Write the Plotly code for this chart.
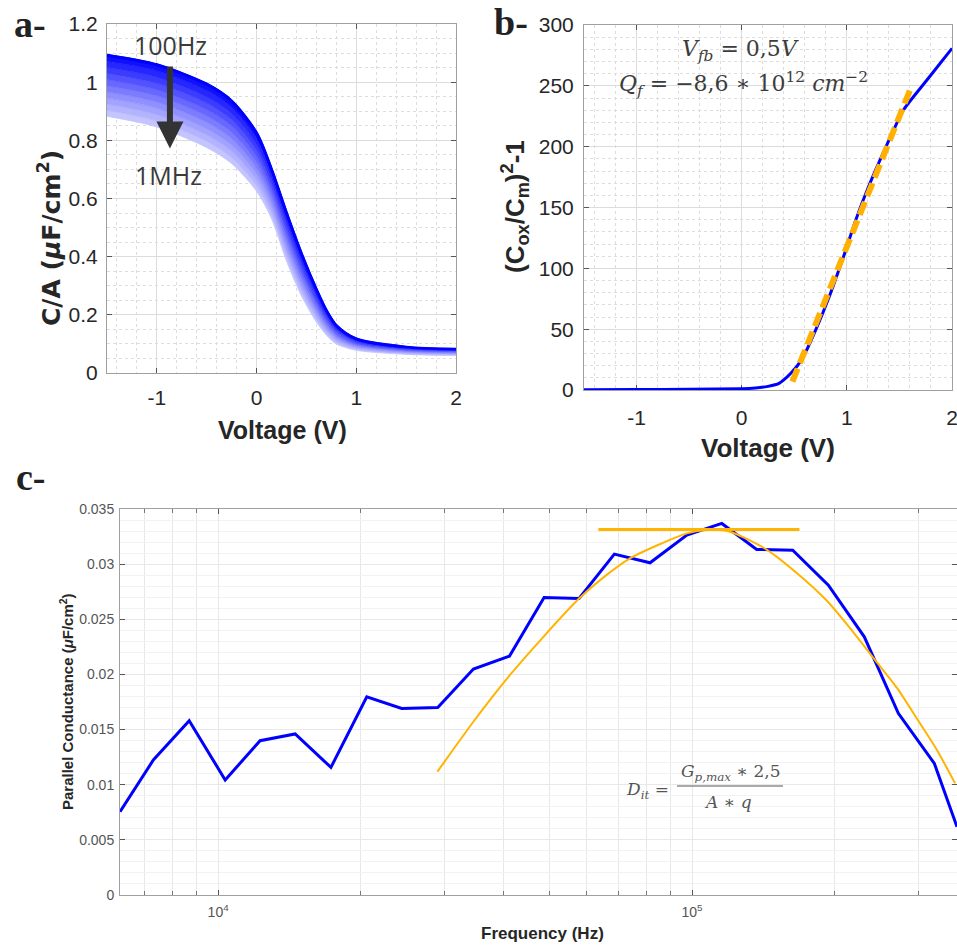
import plotly.graph_objects as go

# ---------------- Panel a: C/A vs Voltage, 100 Hz ... 1 MHz ----------------
volt_a = [-1.5, -1.0, -0.5, -0.25, 0.0, 0.15, 0.3, 0.45, 0.6, 0.7, 0.8, 1.0, 1.5, 2.0]
freq_labels_a = ["100 Hz", "251 Hz", "631 Hz", "1.58 kHz", "3.98 kHz", "10 kHz",
                 "25.1 kHz", "63.1 kHz", "158 kHz", "398 kHz", "1 MHz"]
ca_100Hz = [1.093, 1.060, 0.993, 0.935, 0.825, 0.700, 0.550, 0.410, 0.287, 0.215, 0.163, 0.117, 0.089, 0.082]
ca_251Hz = [1.072, 1.039, 0.971, 0.913, 0.805, 0.683, 0.533, 0.395, 0.276, 0.206, 0.157, 0.113, 0.086, 0.080]
ca_631Hz = [1.051, 1.017, 0.949, 0.892, 0.785, 0.666, 0.517, 0.381, 0.265, 0.198, 0.150, 0.109, 0.084, 0.078]
ca_1k58 = [1.030, 0.996, 0.928, 0.870, 0.765, 0.649, 0.500, 0.366, 0.253, 0.189, 0.144, 0.105, 0.081, 0.075]
ca_3k98 = [1.009, 0.974, 0.906, 0.849, 0.745, 0.632, 0.484, 0.352, 0.242, 0.181, 0.138, 0.101, 0.079, 0.073]
ca_10k = [0.988, 0.953, 0.884, 0.827, 0.725, 0.615, 0.467, 0.337, 0.231, 0.172, 0.131, 0.097, 0.076, 0.071]
ca_25k1 = [0.967, 0.932, 0.862, 0.806, 0.705, 0.598, 0.451, 0.323, 0.220, 0.164, 0.125, 0.094, 0.074, 0.069]
ca_63k1 = [0.946, 0.910, 0.840, 0.784, 0.685, 0.581, 0.434, 0.308, 0.209, 0.155, 0.119, 0.090, 0.071, 0.067]
ca_158k = [0.925, 0.889, 0.819, 0.763, 0.665, 0.564, 0.418, 0.294, 0.197, 0.147, 0.113, 0.086, 0.069, 0.064]
ca_398k = [0.904, 0.867, 0.797, 0.741, 0.645, 0.547, 0.401, 0.279, 0.186, 0.138, 0.106, 0.082, 0.066, 0.062]
ca_1MHz = [0.883, 0.846, 0.775, 0.720, 0.625, 0.530, 0.385, 0.265, 0.175, 0.130, 0.100, 0.078, 0.064, 0.060]
curves_a = [ca_100Hz, ca_251Hz, ca_631Hz, ca_1k58, ca_3k98, ca_10k, ca_25k1, ca_63k1,
            ca_158k, ca_398k, ca_1MHz]
shade_a = [0, 16, 38, 60, 82, 104, 124, 144, 162, 179, 196]

# ---------------- Panel b: (Cox/Cm)^2 - 1 ----------------
volt_b = [-1.5, -1.0, -0.5, 0.0, 0.13, 0.25, 0.355, 0.467, 0.578, 0.707, 0.834, 0.962,
          1.09, 1.201, 1.378, 1.537, 1.76, 2.0]
cox_b = [0.3, 0.4, 0.6, 1.0, 1.6, 3.0, 5.5, 13.7, 26.0, 50.0, 77.0, 108.0,
         141.0, 166.0, 201.0, 230.0, 254.6, 280.8]
fit_volt_b = [0.482, 1.601]
fit_cox_b = [6.8, 246.6]

# ---------------- Panel c: parallel conductance vs frequency ----------------
freq_c = [6210, 7300, 8690, 10350, 12260, 14540, 17300, 20590, 24400, 29070, 34570, 41170,
          48730, 57760, 68550, 81540, 97500, 115550, 136900, 163100, 193900, 230900,
          272400, 324500, 362200]
gp_c = [0.00755, 0.01224, 0.0158, 0.01043, 0.01399, 0.0146, 0.01157, 0.01798, 0.01692,
        0.01701, 0.02049, 0.02165, 0.02698, 0.02689, 0.03091, 0.03012, 0.03263, 0.03369,
        0.03133, 0.03127, 0.0281, 0.02341, 0.01647, 0.01193, 0.00618]
fit_freq_c = [29020, 34560, 41300, 48570, 57540, 65020, 73960, 97500, 108000, 120200, 143900,
              166300, 192300, 215400, 241300, 270400, 297900, 328100, 358900]
fit_gp_c = [0.01118, 0.01571, 0.01995, 0.02341, 0.02681, 0.02880, 0.03053, 0.03279, 0.03310,
            0.03294, 0.03130, 0.02920, 0.02670, 0.02420, 0.02150, 0.01880, 0.01602, 0.01320,
            0.01012]
gpmax_freq_c = [63430, 168500]
gpmax_c = [0.03315, 0.03315]
major_log_ticks = [1e4, 1e5]
major_log_text = ["10<sup>4</sup>", "10<sup>5</sup>"]
minor_log_ticks = [7000, 8000, 9000, 2e4, 3e4, 4e4, 5e4, 6e4, 7e4, 8e4, 9e4, 2e5, 3e5]

fig = go.Figure()

# panel a: stacked bands, colour fading from 100 Hz (dark blue) to 1 MHz (light)
for i, (name, ys) in enumerate(zip(freq_labels_a, curves_a)):
    col = "rgb({0},{0},255)".format(shade_a[i])
    fig.add_trace(go.Scatter(
        x=volt_a, y=ys, mode="lines", name=name, xaxis="x", yaxis="y",
        line=dict(color=col, width=3 if i == 0 else 0.8, shape="spline", smoothing=0.8),
        fill=None if i == 0 else "tonexty", fillcolor=col, showlegend=False))
fig.add_trace(go.Scatter(x=volt_a, y=ca_100Hz, mode="lines", xaxis="x", yaxis="y",
                         line=dict(color="rgb(0,0,255)", width=2.5, shape="spline", smoothing=0.8),
                         showlegend=False))

# panel b
fig.add_trace(go.Scatter(x=volt_b, y=cox_b, mode="lines", xaxis="x2", yaxis="y2",
                         line=dict(color="#0000FF", width=3, shape="spline", smoothing=0.6),
                         showlegend=False))
fig.add_trace(go.Scatter(x=fit_volt_b, y=fit_cox_b, mode="lines", xaxis="x2", yaxis="y2",
                         line=dict(color="#FFB000", width=6, dash="14px,6px"),
                         showlegend=False))

# panel c
fig.add_trace(go.Scatter(x=freq_c, y=gp_c, mode="lines", xaxis="x3", yaxis="y3",
                         line=dict(color="#0000FF", width=3), showlegend=False))
fig.add_trace(go.Scatter(x=fit_freq_c, y=fit_gp_c, mode="lines", xaxis="x3", yaxis="y3",
                         line=dict(color="#FFB400", width=2, shape="spline", smoothing=0.7),
                         showlegend=False))
fig.add_trace(go.Scatter(x=gpmax_freq_c, y=gpmax_c, mode="lines", xaxis="x3", yaxis="y3",
                         line=dict(color="#FFB400", width=3), showlegend=False))

W, H = 957, 945


def px_x(p):
    return p / W


def px_y(p):
    return 1 - p / H


base = dict(showline=True, linecolor="#a0a0a0", linewidth=1, mirror="ticks", ticks="inside",
            ticklen=5, tickcolor="#555", showgrid=True, gridcolor="#dcdcdc", gridwidth=1,
            zeroline=False, layer="below traces", automargin=False)
tick_big = dict(family="Liberation Sans, Arial", size=21, color="#262626")
tick_small = dict(family="Liberation Sans, Arial", size=14, color="#555")

fig.update_layout(
    width=W, height=H, margin=dict(l=0, r=0, t=0, b=0, autoexpand=False),
    paper_bgcolor="white", plot_bgcolor="white",
    xaxis=dict(base, domain=[px_x(107), px_x(456)], anchor="y", range=[-1.5, 2],
               tickvals=[-1, 0, 1, 2], ticktext=["-1", "0", "1", "2"], tickfont=tick_big,
               ticklabelstandoff=6,
               minor=dict(dtick=0.2, tick0=0, showgrid=True, gridcolor="#dddddd", griddash="dot")),
    yaxis=dict(base, domain=[px_y(373), px_y(24)], anchor="x", range=[0, 1.2],
               tickvals=[0, 0.2, 0.4, 0.6, 0.8, 1.0, 1.2],
               ticktext=["0", "0.2", "0.4", "0.6", "0.8", "1", "1.2"], tickfont=tick_big,
               ticklabelstandoff=4,
               minor=dict(dtick=0.05, tick0=0, showgrid=True, gridcolor="#dddddd", griddash="dot")),
    xaxis2=dict(base, domain=[px_x(584), px_x(952)], anchor="y2", range=[-1.5, 2],
                tickvals=[-1, 0, 1, 2], ticktext=["-1", "0", "1", "2"], tickfont=tick_big,
                ticklabelstandoff=9, ticklabeloverflow="allow",
                minor=dict(dtick=0.2, tick0=0, showgrid=True, gridcolor="#dddddd", griddash="dot")),
    yaxis2=dict(base, domain=[px_y(390), px_y(25)], anchor="x2", range=[0, 300],
                tickvals=[0, 50, 100, 150, 200, 250, 300], tickfont=tick_big,
                ticklabelstandoff=5,
                minor=dict(dtick=10, tick0=0, showgrid=True, gridcolor="#dddddd", griddash="dot")),
    xaxis3=dict(base, type="log", domain=[px_x(120), 1.0], anchor="y3",
                range=[3.793, 5.559], tickvals=major_log_ticks, ticktext=major_log_text,
                tickfont=tick_small, gridcolor="#e8e8e8", ticklabelstandoff=4,
                minor=dict(tickmode="array", tickvals=minor_log_ticks, ticks="inside",
                           ticklen=4, tickcolor="#777", showgrid=True, gridcolor="#e8e8e8")),
    yaxis3=dict(base, domain=[px_y(895), px_y(509)], anchor="x3", range=[0, 0.035],
                tickvals=[0, 0.005, 0.01, 0.015, 0.02, 0.025, 0.03, 0.035],
                ticktext=["0", "0.005", "0.01", "0.015", "0.02", "0.025", "0.03", "0.035"],
                tickfont=tick_small, gridcolor="#e8e8e8", ticklabelstandoff=2,
                minor=dict(dtick=0.001, tick0=0, showgrid=True, gridcolor="#f2f2f2")),
)

ann = []


def paper_text(x, y, text, size, family="Liberation Sans, Arial", color="#262626", angle=0):
    ann.append(dict(xref="paper", yref="paper", x=px_x(x), y=px_y(y), text=text,
                    showarrow=False, textangle=angle, xanchor="center", yanchor="middle",
                    font=dict(family=family, size=size, color=color)))


# panel labels
serif = "Liberation Serif, Times New Roman"
paper_text(30, 24, "<b>a-</b>", 38, family=serif, color="#222")
paper_text(511, 22, "<b>b-</b>", 38, family=serif, color="#222")
paper_text(31, 477, "<b>c-</b>", 38, family=serif, color="#222")

# axis titles
paper_text(50, 238, "<b>C/A (<i>μ</i>F/cm<sup>2</sup>)</b>", 25, family="DejaVu Sans", angle=-90)
paper_text(282, 430, "<b>Voltage (V)</b>", 25)
paper_text(515, 207, "<b>(C<sub>ox</sub>/C<sub>m</sub>)<sup>2</sup>-1</b>", 26, angle=-90)
paper_text(768, 448, "<b>Voltage (V)</b>", 26)
paper_text(66, 702, "<b>Parallel Conductance (<i>μ</i>F/cm<sup>2</sup>)</b>", 15, angle=-90)
paper_text(542, 933, "<b>Frequency (Hz)</b>", 17)

# panel a frequency labels and arrow
ann.append(dict(xref="x", yref="y", x=-0.859, y=1.128, text="100Hz", showarrow=False,
                xanchor="center", yanchor="middle",
                font=dict(family="Open Sans", size=25, color="#3a3a3a")))
ann.append(dict(xref="x", yref="y", x=-0.879, y=0.680, text="1MHz", showarrow=False,
                xanchor="center", yanchor="middle",
                font=dict(family="Open Sans", size=25, color="#3a3a3a")))
ann.append(dict(xref="x", yref="y", x=-0.869, y=0.772, ax=-0.869, ay=1.059,
                axref="x", ayref="y", text="", showarrow=True, arrowhead=2,
                arrowsize=0.9, arrowwidth=6, arrowcolor="#333333"))

# panel b formulas
formula_font = "DejaVu Serif, Liberation Serif"
paper_text(740, 50, "<i>V</i><sub><i>fb</i></sub> = 0,5<i>V</i>", 22, family=formula_font,
           color="#3c3c3c")
paper_text(743, 84, "<i>Q</i><sub><i>f</i></sub> = −8,6 ∗ 10<sup>12</sup> <i>cm</i><sup>−2</sup>",
           22, family=formula_font, color="#3c3c3c")

# panel c formula
paper_text(647, 790, "<i>D</i><sub><i>it</i></sub> =", 17, family=formula_font, color="#555555")
paper_text(730, 772, "<i>G</i><sub><i>p,max</i></sub> ∗ 2,5", 17, family=formula_font,
           color="#555555")
paper_text(728, 802, "<i>A</i> ∗ <i>q</i>", 17, family=formula_font, color="#555555")

fig.update_layout(
    annotations=ann,
    shapes=[dict(type="line", xref="paper", yref="paper", x0=px_x(677), x1=px_x(783),
                 y0=px_y(786), y1=px_y(786), line=dict(color="#555555", width=1.2))])

fig.write_html("out.html", config={"displayModeBar": False},
               post_script="document.body.style.margin='0';document.body.style.overflow='hidden';")
